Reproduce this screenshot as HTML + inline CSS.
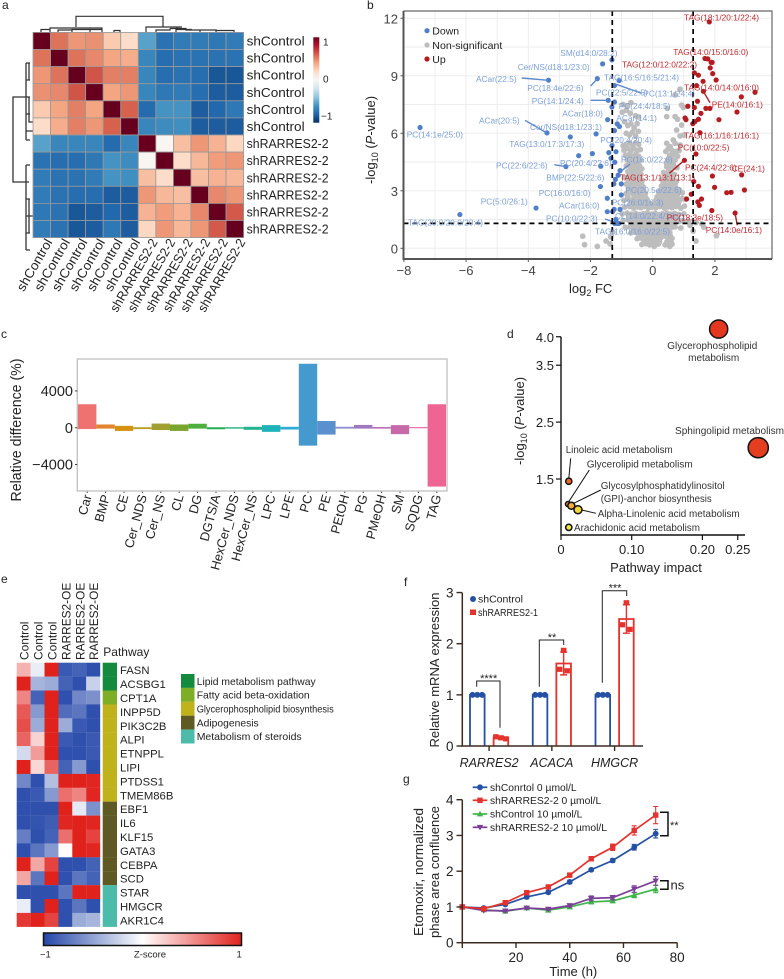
<!DOCTYPE html>
<html lang="en">
<head>
<meta charset="utf-8">
<title>Lipidomics figure</title>
<style>
html,body{margin:0;padding:0;background:#fff}
svg{display:block;font-family:"Liberation Sans",Arial,sans-serif}
text{fill:#222}
.v{font-size:8.3px}
.vb{fill:#7a9fdc}
.vr{fill:#c5282e}
.d{font-size:10px;fill:#333}
.pl{font-size:13px;fill:#222}
</style>
</head>
<body>
<svg id="fig" xmlns="http://www.w3.org/2000/svg" width="784" height="979" viewBox="0 0 784 979">
<defs>
<linearGradient id="rdbu" x1="0" y1="1" x2="0" y2="0">
<stop offset="0" stop-color="#053061"/><stop offset=".1" stop-color="#2166ac"/><stop offset=".2" stop-color="#4393c3"/><stop offset=".3" stop-color="#92c5de"/><stop offset=".4" stop-color="#d1e5f0"/><stop offset=".5" stop-color="#f7f7f7"/><stop offset=".6" stop-color="#fddbc7"/><stop offset=".7" stop-color="#f4a582"/><stop offset=".8" stop-color="#d6604d"/><stop offset=".9" stop-color="#b2182b"/><stop offset="1" stop-color="#67001f"/>
</linearGradient>
<linearGradient id="zscore" x1="0" y1="0" x2="1" y2="0">
<stop offset="0" stop-color="#2447a9"/><stop offset=".5" stop-color="#ffffff"/><stop offset="1" stop-color="#e0221d"/>
</linearGradient>
</defs>

<text x="2" y="9" font-size="12">a</text>
<text x="367" y="9" font-size="12">b</text>
<text x="1" y="338" font-size="12">c</text>
<text x="507" y="338" font-size="12">d</text>
<text x="1" y="583" font-size="12">e</text>
<text x="404" y="586" font-size="12">f</text>
<text x="403" y="783" font-size="12">g</text>

<!-- Panel a -->
<g id="panel-a">
<path fill="none" stroke="#333" stroke-width="1.2" d="M76 27V16.3H163V27M50 32V29.5H41V32M50 29.5V28H102V29.5M58 32V30H72M72 32V29.5H90V32M90 29.5H102V32M114 32V30.5H120V32M146 32V27H182M146 27H177V28.5M170 28.5H186V30H200V32M170 28.5V30H156V32M186 30H216V32M216 30.5H234V32M176 32V29.5H192"/>
<path fill="none" stroke="#333" stroke-width="1.3" d="M26 97H13V182H26M26 63V140M26 63H30M26 80H30M29 63V80M26 97H30M29 97V122H33M26 114H30M26 131H33M26 140H30M26 165V250M26 165H30M26 182H29M26 199H30M26 216H33M26 233H30M26 250H30M29 199V216M29 216V233"/>
<rect x="313.3" y="37.3" width="6" height="85.4" fill="url(#rdbu)"/>
<text x="323" y="45.5" font-size="10">1</text>
<text x="323" y="82.5" font-size="10">0</text>
<text x="321" y="119.5" font-size="10">−1</text>
</g>

<!-- Panel b -->
<g id="panel-b">
<g id="volcano-grid"></g>
<g id="volcano-points"></g>
<g fill="none" stroke-width="1.4">
<path stroke="#5c88cf" d="M521.7 78L548.3 80.3M590.7 86L597.3 78.7M615.3 84L641.7 93.3M590.7 100.3L608.3 100.3M525 120.3L547 133M554.3 164.7L566 166.7M621.7 170.7L630 164M605 219L617.3 223.3"/>
<path stroke="#b51c22" d="M703.3 91.3L710 102.7M669.3 173.3L684.3 160.3M735 213L737.3 225.3"/>
</g>
<g id="volcano-frame"></g>
<g class="v">
<text class="v vb" x="560.3" y="56">SM(d14:0/28:2)</text>
<text class="v vb" x="517.7" y="70">Cer/NS(d18:1/23:0)</text>
<text class="v vb" x="476" y="82">ACar(22:5)</text>
<text class="v vb" x="527.3" y="91">PC(18:4e/22:6)</text>
<text class="v vb" x="604" y="80.5">TAG(16:5/16:5/21:4)</text>
<text class="v vb" x="596" y="95.5">PC(22:5/22:5)</text>
<text class="v vb" x="643.3" y="96.5">PC(13:1/24:4)</text>
<text class="v vb" x="531.7" y="104">PG(14:1/24:4)</text>
<text class="v vb" x="618.7" y="109">PC(24:4/18:5)</text>
<text class="v vb" x="562.3" y="116.5">ACar(18:0)</text>
<text class="v vb" x="616.3" y="121">ACar(14:1)</text>
<text class="v vb" x="479" y="123.5">ACar(20:5)</text>
<text class="v vb" x="406.7" y="137.5">PC(14:1e/25:0)</text>
<text class="v vb" x="530" y="130">Cer/NS(d18:1/23:1)</text>
<text class="v vb" x="600.3" y="143">PC(20:4/20:4)</text>
<text class="v vb" x="509.3" y="147">TAG(13:0/17:3/17:3)</text>
<text class="v vb" x="560" y="166">PC(20:4/22:6)</text>
<text class="v vb" x="621" y="162.5">PC(16:0/22:6)</text>
<text class="v vb" x="496" y="168.7">PC(22:6/22:6)</text>
<text class="v vb" x="546.3" y="180.7">BMP(22:5/22:6)</text>
<text class="v vb" x="625.3" y="193">PC(20:5e/22:6)</text>
<text class="v vb" x="538.7" y="196">PC(16:0/16:0)</text>
<text class="v vb" x="480.7" y="204.7">PC(5:0/26:1)</text>
<text class="v vb" x="559" y="208.7">ACar(16:0)</text>
<text class="v vb" x="611.7" y="205.3">PC(26:0/16:3)</text>
<text class="v vb" x="546" y="221.7">PC(10:0/22:3)</text>
<text class="v vb" x="615" y="219">CL(14:0/22:4/18:2)</text>
<text class="v vb" x="408" y="225.3">TAG(20:0/20:0/20:4)</text>
<text class="v vb" x="595" y="234.7">TAG(16:0/16:0/22:5)</text>
</g>
<g>
<text class="v vr" x="684" y="20.5">TAG(18:1/20:1/22:4)</text>
<text class="v vr" x="673.3" y="55">TAG(14:0/15:0/16:0)</text>
<text class="v vr" x="622" y="67.7">TAG(12:0/12:0/22:2)</text>
<text class="v vr" x="684" y="90.3">TAG(14:0/14:0/16:0)</text>
<text class="v vr" x="711.7" y="107.7">PE(14:0/16:1)</text>
<text class="v vr" x="684" y="138.3">TAG(16:1/16:1/16:1)</text>
<text class="v vr" x="677.7" y="150.3">PC(10:0/22:5)</text>
<text class="v vr" x="685" y="170.7">PC(24:4/22:6)</text>
<text class="v vr" x="731.7" y="171.7">CE(24:1)</text>
<text class="v vr" x="620" y="180.3">TAG(13:1/13:1/13:1)</text>
<text class="v vr" x="666.7" y="220.7">PC(18:3e/18:5)</text>
<text class="v vr" x="705.7" y="233">PC(14:0e/16:1)</text>
</g>
<g>
<circle cx="427" cy="30.7" r="2.6" fill="#4f7fcb"/>
<text x="432.3" y="34.5" font-size="10.5" fill="#333">Down</text>
<circle cx="427" cy="45" r="2.6" fill="#bdbdbd"/>
<text x="432.3" y="49" font-size="10.5" textLength="70" lengthAdjust="spacingAndGlyphs">Non-significant</text>
<circle cx="427" cy="59" r="2.6" fill="#b51c22"/>
<text x="432.3" y="63" font-size="10.5">Up</text>
</g>
<text class="pl" x="569" y="293">log<tspan font-size="9" dy="3">2</tspan><tspan dy="-3"> FC</tspan></text>
<text class="pl" transform="translate(375,184) rotate(-90)">-log<tspan font-size="9" dy="3">10</tspan><tspan dy="-3"> (</tspan><tspan font-style="italic">P</tspan>-value)</text>
</g>

<!-- Panel c -->
<g id="panel-c">
<text transform="translate(21,501.5) rotate(-90)" font-size="14.5" textLength="143" lengthAdjust="spacingAndGlyphs">Relative difference (%)</text>
</g>

<!-- Panel d -->
<g id="panel-d">
<path fill="none" stroke="#111" stroke-width="1" d="M570.7 458.3L568.7 479.3M589.3 470L567.7 503.3M600.7 490L571.7 504.3M596 513.3L581.7 510"/>
<text class="d" x="712.3" y="349" text-anchor="middle" textLength="90" lengthAdjust="spacingAndGlyphs">Glycerophospholipid</text>
<text class="d" x="713.7" y="361" text-anchor="middle">metabolism</text>
<text class="d" x="675" y="434" textLength="109" lengthAdjust="spacingAndGlyphs">Sphingolipid metabolism</text>
<text class="d" x="565.7" y="453" textLength="107" lengthAdjust="spacingAndGlyphs">Linoleic acid metabolism</text>
<text class="d" x="586.7" y="467.5" textLength="106" lengthAdjust="spacingAndGlyphs">Glycerolipid metabolism</text>
<text class="d" x="600.7" y="489" textLength="124" lengthAdjust="spacingAndGlyphs">Glycosylphosphatidylinositol</text>
<text class="d" x="600.7" y="502" textLength="111" lengthAdjust="spacingAndGlyphs">(GPI)-anchor biosynthesis</text>
<text class="d" x="597.7" y="517" textLength="142" lengthAdjust="spacingAndGlyphs">Alpha-Linolenic acid metabolism</text>
<text class="d" x="574" y="531" textLength="126" lengthAdjust="spacingAndGlyphs">Arachidonic acid metabolism</text>
<text class="pl" x="656" y="572" text-anchor="middle">Pathway impact</text>
<text class="pl" transform="translate(524,465) rotate(-90)">-log<tspan font-size="9" dy="3">10</tspan><tspan dy="-3"> (</tspan><tspan font-style="italic">P</tspan>-value)</text>
</g>

<!-- Panel e -->
<g id="panel-e">
<text x="103.3" y="656" font-size="12">Pathway</text>
<g font-size="10.5">
<rect x="181" y="674" width="13.5" height="13.9" fill="#138a3d"/>
<rect x="181" y="687.9" width="13.5" height="13.9" fill="#7dae26"/>
<rect x="181" y="701.8" width="13.5" height="13.9" fill="#bfb21a"/>
<rect x="181" y="715.7" width="13.5" height="13.9" fill="#5f5a24"/>
<rect x="181" y="729.6" width="13.5" height="13.9" fill="#4dbbaa"/>
<text x="196.7" y="685" textLength="119" lengthAdjust="spacingAndGlyphs">Lipid metabolism pathway</text>
<text x="196.7" y="698.5" textLength="113" lengthAdjust="spacingAndGlyphs">Fatty acid beta-oxidation</text>
<text x="196.7" y="712.5" textLength="137" lengthAdjust="spacingAndGlyphs">Glycerophospholipid biosynthesis</text>
<text x="196.7" y="726.5" textLength="62" lengthAdjust="spacingAndGlyphs">Adipogenesis</text>
<text x="196.7" y="740" textLength="105" lengthAdjust="spacingAndGlyphs">Metabolism of steroids</text>
</g>
<rect x="43.5" y="933" width="198" height="12.5" fill="url(#zscore)" stroke="#111" stroke-width="1.5"/>
<text x="40" y="957.5" font-size="9.5">−1</text>
<text x="150" y="957.5" font-size="9.5" text-anchor="middle">Z-score</text>
<text x="236.5" y="957.5" font-size="9.5">1</text>
</g>

<!-- Panel f -->
<g id="panel-f">
<text class="pl" transform="translate(439,747.5) rotate(-90)" textLength="155" lengthAdjust="spacingAndGlyphs">Relative mRNA expression</text>
<circle cx="473" cy="599" r="3" fill="#2451a6"/>
<text x="478" y="602.5" font-size="10.5">shControl</text>
<rect x="470" y="609.5" width="6" height="5.5" fill="#e5322d"/>
<text x="478" y="616" font-size="10.5" textLength="60" lengthAdjust="spacingAndGlyphs">shRARRES2-1</text>
<path fill="none" stroke="#222" stroke-width="1" d="M476.7 686.7V681H500V727.7M539.3 686.7V640H563.7V645M602.3 682.7V590.7H626.7V596"/>
<text x="488.7" y="682" font-size="11" text-anchor="middle">****</text>
<text x="552" y="641" font-size="11" text-anchor="middle">**</text>
<text x="615" y="591.5" font-size="11" text-anchor="middle">***</text>
</g>

<!-- Panel g -->
<g id="panel-g">
<text class="pl" transform="translate(423,936) rotate(-90)" textLength="128" lengthAdjust="spacingAndGlyphs">Etomoxir, normalized</text>
<text class="pl" transform="translate(439,938) rotate(-90)" textLength="132" lengthAdjust="spacingAndGlyphs">phase area confluence</text>
<text class="pl" x="573.3" y="976" text-anchor="middle">Time (h)</text>
<path fill="none" stroke="#111" stroke-width="1.5" d="M660 812.3H668V835.7H660"/>
<text x="670" y="829" font-size="11">**</text>
<path fill="none" stroke="#111" stroke-width="1.5" d="M660 880.7H668V889.3H660"/>
<text x="670.5" y="889.5" font-size="13">ns</text>
</g>

<script>
// ---- Panel a data ----
const corrLabels = ['shControl','shControl','shControl','shControl','shControl','shControl','shRARRES2-2','shRARRES2-2','shRARRES2-2','shRARRES2-2','shRARRES2-2','shRARRES2-2'];
const corrRow1 = [1,.62,.5,.52,.3,.22,-.62,-.85,-.8,-.8,-.82,-.8];
const corrRow2 = [.62,1,.62,.55,.45,.42,-.75,-.87,-.85,-.85,-.85,-.85];
const corrRow3 = [.5,.62,1,.72,.58,.58,-.75,-.87,-.85,-.87,-.97,-.97];
const corrRow4 = [.52,.55,.72,1,.45,.5,-.75,-.82,-.8,-.87,-.95,-.95];
const corrRow5 = [.3,.45,.58,.45,1,.68,-.88,-.68,-.68,-.95,-.9,-.82];
const corrRow6 = [.22,.42,.58,.5,.68,1,-.75,-.72,-.7,-.95,-.95,-.95];
const corrRow7 = [-.62,-.75,-.75,-.75,-.88,-.75,1,.02,.35,.5,.4,.24];
const corrRow8 = [-.85,-.87,-.87,-.82,-.68,-.72,.02,1,.22,.38,.48,.5];
const corrRow9 = [-.8,-.85,-.85,-.8,-.68,-.7,.35,.22,1,.35,.4,.38];
const corrRow10 = [-.8,-.85,-.87,-.87,-.95,-.95,.5,.38,.35,1,.55,.5];
const corrRow11 = [-.82,-.85,-.97,-.95,-.9,-.95,.4,.48,.4,.55,1,.7];
const corrRow12 = [-.8,-.85,-.97,-.95,-.82,-.95,.24,.5,.38,.5,.7,1];
const corrMatrix = [corrRow1,corrRow2,corrRow3,corrRow4,corrRow5,corrRow6,corrRow7,corrRow8,corrRow9,corrRow10,corrRow11,corrRow12];

// ---- Panel b data ----
const volcanoXTicks = [-8,-6,-4,-2,0,2];
const volcanoYTicks = [0,3,6,9,12];
const downPoints = [[-7.48,6.3],[-1.61,9.62],[-1.31,9.83],[-3.35,8.77],[-1.78,8.85],[-1.08,8.75],[-1.23,8.49],[-1.43,7.72],[-1.23,7.63],[-1.31,7.37],[-1.45,6.71],[-1.14,6.49],[-1.07,6.35],[-1.23,6.14],[-1.82,5.97],[-3.4,6.02],[-2.65,5.81],[-1.31,5.36],[-1.18,5.04],[-2.38,4.83],[-1.94,4.94],[-1.41,4.99],[-1.34,4.7],[-1.22,4.49],[-2.79,4.26],[-1.67,4.28],[-1.05,4.05],[-1.11,3.81],[-1.2,3.6],[-1.25,3.36],[-1.01,3.36],[-1.68,3.22],[-1.01,2.78],[-1.46,2.61],[-3.75,2.1],[-6.2,1.76],[-1.24,2.03],[-1.05,2.03],[-1.46,1.91],[-1.29,1.91],[-1.18,1.51],[-1.15,1.3],[-1.22,1.3],[-1.09,1.3]];
const upPoints = [[1.82,11.81],[1.68,9.9],[1.77,9.88],[1.88,9.7],[1.91,9.7],[1.85,9.41],[1.93,9.11],[1.34,9.15],[1.47,9.03],[2.04,8.78],[1.62,8.71],[1.41,8.49],[1.63,8.19],[3.29,8.14],[2.85,7.9],[1.44,7.67],[1.13,7.41],[1.34,7.34],[1.71,7.3],[1.84,7.3],[2.71,7.11],[1.55,7.04],[1.04,6.8],[1.07,6.71],[1.47,6.73],[2.13,6.71],[1.36,6.61],[1.29,6.5],[1.52,6.03],[1.39,4.92],[1.02,4.59],[1.92,3.77],[2.86,3.83],[1.32,3.48],[1.47,3.23],[1.99,3.18],[2.95,3.04],[2.38,2.9],[2.52,2.92],[1.24,2.82],[1.09,2.57],[1.57,2.57],[1.45,2.42],[1.5,2.24],[1.9,1.97],[2.65,1.84]];
const nsPointsSparse = [[-2.25,.63],[-2.19,.19],[-1.78,.1],[-1.5,.38],[-1.37,.23],[-1.28,.85],[-1.35,.6],[2.05,.66],[1.39,.38],[1.58,1.27],[1.3,.9],[1.2,1.2],[1.04,2.56],[.95,2.6],[1.4,1.35],[1.65,1.1]];
const nsPointsLeft = [[-.95,7.5],[-.82,7.42],[-.7,7.6],[-.98,7.1],[-.85,7.2],[-.72,7.05],[-.55,6.92],[-.46,6.85],[-.9,6.6],[-.8,6.4],[-.7,6.5],[-.6,6.28],[-.5,6.5],[-.46,6.1],[-.85,6],[-.75,5.92],[-.65,6.05],[-.55,5.85],[-.95,5.35],[-.85,5.42],[-.75,5.5],[-.65,5.38],[-.55,5.5],[-.45,5.42],[-.92,5.12],[-.8,5.2],[-.7,5.1],[-.6,5.2],[-.5,5.1],[-.4,5.15],[-.88,4.85],[-.75,4.9],[-.65,4.8],[-.55,4.9],[-.45,4.8],[-.82,4.6],[-.7,4.55],[-.6,4.62],[-.5,4.5],[-.4,4.6],[-.85,4.3],[-.72,4.25],[-.62,4.3],[-.52,4.2],[-.42,4.3],[-.35,4.15],[-.8,4],[-.68,3.95],[-.58,3.98],[-.48,3.9],[-.38,3.85],[-.9,3.7],[-.78,3.65],[-.66,3.7],[-.55,3.6],[-.44,3.62],[-.34,3.55],[-.85,3.35],[-.72,3.3],[-.6,3.35],[-.5,3.25],[-.4,3.3],[-.3,3.2]];
const nsPointsRight = [[.88,8.3],[.72,8],[.93,7.47],[.99,7.35],[.47,7.3],[.45,6.87],[.72,6.87],[.8,6.73],[.93,6.43],[.77,6.17],[.66,5.65],[1,5.9],[.88,5.86],[.45,5.48],[.72,5.48],[.56,5.3],[.88,5.39],[.5,5.2],[.62,5.1],[.75,5.05],[.85,5.1],[.55,4.85],[.68,4.9],[.8,4.8],[.48,4.6],[.6,4.55],[.72,4.6],[.45,4.25],[.56,4.3],[.68,4.25],[.78,4.2],[.35,3.95],[.47,3.9],[.58,3.95],[.7,3.85],[.3,3.6],[.42,3.55],[.54,3.6],[.66,3.55],[.76,3.5],[.28,3.25],[.4,3.2],[.52,3.25],[.64,3.2],[.75,3.15],[.85,3.05]];
const nsPointsBase = [[-.85,2.85],[-.72,2.9],[-.6,2.82],[-.48,2.88],[-.36,2.8],[-.24,2.85],[.2,2.9],[.32,2.82],[.44,2.88],[.56,2.8],[.68,2.87],[.8,2.82],[.95,2.9],[-.92,2.5],[-.78,2.55],[-.66,2.48],[-.54,2.52],[-.42,2.46],[-.3,2.5],[-.18,2.55],[.1,2.5],[.22,2.45],[.36,2.52],[.48,2.47],[.6,2.55],[.72,2.5],[.85,2.46],[1.02,2.2],[-.9,2.15],[-.75,2.18],[-.62,2.1],[-.5,2.16],[-.38,2.12],[-.26,2.18],[-.14,2.1],[-.02,2.15],[.1,2.12],[.24,2.18],[.38,2.1],[.5,2.16],[.62,2.12],[.75,2.18],[.9,2.1],[-.98,1.8],[-.82,1.84],[-.68,1.78],[-.55,1.82],[-.42,1.76],[-.3,1.8],[-.18,1.84],[-.05,1.78],[.08,1.82],[.2,1.76],[.32,1.8],[.46,1.84],[.58,1.78],[.7,1.82],[.84,1.76],[1,1.8],[-.95,1.45],[-.78,1.48],[-.65,1.42],[-.52,1.46],[-.4,1.4],[-.28,1.45],[-.15,1.48],[-.03,1.42],[.1,1.46],[.22,1.4],[.35,1.45],[.47,1.48],[.6,1.42],[.72,1.46],[.85,1.4],[.98,1.45],[1.15,1.42],[-.88,1.1],[-.72,1.14],[-.6,1.08],[-.48,1.12],[-.36,1.06],[-.24,1.1],[-.12,1.14],[0,1.08],[.12,1.12],[.24,1.06],[.36,1.1],[.48,1.14],[.6,1.08],[.72,1.12],[.9,1.06],[-.7,.8],[-.55,.84],[-.42,.78],[-.3,.82],[-.18,.76],[-.06,.8],[.06,.84],[.18,.78],[.3,.82],[.42,.76],[.55,.8],[-.5,.5],[-.38,.54],[-.25,.48],[-.12,.52],[0,.46],[.12,.5],[.25,.54],[.5,.48],[.62,.52],[-.35,.2],[-.22,.24],[-.1,.18],[.05,.1],[.18,.22],[.4,.18],[.55,.1],[.62,.22]];
const nsPointsDense = [[-.74,4.72],[-.58,4.74],[-.44,4.68],[-.76,4.42],[-.57,4.44],[-.46,4.38],[-.66,4.12],[-.52,4.08],[-.42,4.02],[-.74,3.82],[-.6,3.82],[-.47,3.76],[-.78,3.5],[-.62,3.52],[-.48,3.44],[-.36,3.42],[-.78,3.12],[-.66,3.1],[-.54,3.08],[-.42,3.04],[-.3,3.02],[-.8,2.68],[-.6,2.68],[-.48,2.66],[-.36,2.64],[-.24,2.68],[.14,2.68],[.28,2.66],[.42,2.68],[.54,2.66],[.66,2.7],[.78,2.66],[-.7,2.32],[-.56,2.34],[-.44,2.3],[-.32,2.32],[-.2,2.34],[-.08,2.32],[.04,2.3],[.16,2.32],[.3,2.34],[.44,2.32],[.56,2.34],[.68,2.32],[.82,2.3],[-.75,1.62],[-.6,1.64],[-.47,1.6],[-.35,1.62],[-.23,1.64],[-.1,1.6],[.02,1.62],[.15,1.6],[.27,1.64],[.4,1.62],[.52,1.6],[.65,1.64],[.78,1.6],[-.66,1.28],[-.54,1.26],[-.42,1.28],[-.3,1.24],[-.18,1.28],[-.06,1.26],[.06,1.28],[.18,1.24],[.3,1.28],[.42,1.26],[.54,1.28],[.66,1.24],[-.62,.94],[-.48,.96],[-.36,.92],[-.24,.96],[-.12,.94],[0,.92],[.12,.96],[.24,.94],[.36,.92],[.48,.96],[-.44,.64],[-.3,.66],[-.18,.62],[-.06,.66],[.06,.64],[.2,.62],[.36,.64],[.56,.66],[-.28,.34],[-.16,.36],[-.03,.3],[.1,.36],[.22,.34],[.46,.34],[.58,.36],[.42,5.05],[.58,4.72],[.44,4.45],[.66,4.42],[.52,4.12],[.38,3.75],[.5,3.78],[.62,3.75],[.34,3.42],[.48,3.42],[.6,3.4],[.72,3.35],[.36,3.05],[.48,3.04],[.6,3.02],[.72,3],[.25,3.02]];

// ---- Panel c data ----
const lipidClasses = ['Car','BMP','CE','Cer_NDS','Cer_NS','CL','DG','DGTS/A','HexCer_NDS','HexCer_NS','LPC','LPE','PC','PE','PEtOH','PG','PMeOH','SM','SQDG','TAG'];
const lipidPositive = [2550,350,200,50,450,350,430,50,50,100,280,100,6950,730,100,300,70,280,60,2550];
const lipidNegative = [-150,-100,-350,-150,-250,-350,-100,-170,-100,-230,-450,-200,-1950,-750,-100,-100,-100,-700,-60,-6400];
const lipidYTicks = [-4000,0,4000];

// ---- Panel d data ----
const pathwayImpact = [.223,.279,.011,.0099,.0146,.024,.011];
const pathwayLogP = [4.135,2.05,1.46,1.06,1.03,.96,.65];
const pathwayHits = [17,21,2,1.3,2.5,3.3,2];
const pathwayXTicks = [0,.1,.2,.25];
const pathwayXLabels = ['0','0.10','0.20','0.25'];
const pathwayYTicks = [1.5,2.5,3.5,4];
const pathwayYLabels = ['1.5','2.5','3.5','4.0'];

// ---- Panel e data ----
const geneColumns = ['Control','Control','Control','RARRES2-OE','RARRES2-OE','RARRES2-OE'];
const geneNames = ['FASN','ACSBG1','CPT1A','INPP5D','PIK3C2B','ALPI','ETNPPL','LIPI','PTDSS1','TMEM86B','EBF1','IL6','KLF15','GATA3','CEBPA','SCD','STAR','HMGCR','AKR1C4'];
const genePathway = [0,0,1,2,2,2,2,2,2,2,3,3,3,3,3,3,4,4,4];
const geneZ = [
[.35,-.1,1,-.9,-.85,-.95],
[1,-.4,-.45,-.85,-.95,-.25],
[.55,-.85,1,-.95,-.65,-.6],
[.75,-.55,1,-.8,-.75,-.95],
[.8,-.45,1,-.45,-.9,-.95],
[.7,.2,1,-.9,-.95,-.9],
[-.2,.45,1,-.95,-.95,-.9],
[1,.18,.7,-.85,-.55,-.95],
[-.65,-.95,-.35,1,1,.98],
[-.95,-.9,-.55,.65,.55,.98],
[-.95,-.95,-.95,1,-.12,-.6],
[-.95,-.93,-.88,.98,1,.98],
[-.7,-.95,-.85,.65,1,.85],
[-.95,-.75,-.55,.02,1,.98],
[1,.4,.85,-.95,-.95,-.85],
[.4,-.75,1,-.95,-.75,-.85],
[-.95,-.95,-.95,-.75,1,1],
[-.1,-.95,1,-.95,-.75,-.95],
[.9,1,.85,-.95,-.45,-.4]];

// ---- Panel f data ----
const mrnaGenes = ['RARRES2','ACACA','HMGCR'];
const mrnaControl = [[1,1,1],[1,1,1],[1,1,1]];
const mrnaKnockdown = [[.18,.16,.14],[1.87,1.5,1.47],[2.8,2.37,2.28]];
const mrnaYTicks = [0,1,2,3];

// ---- Panel g data ----
const timeHours = [0,8,16,24,32,40,48,56,64,72];
const controlZero = [1,.97,1.07,1.28,1.41,1.7,2.04,2.3,2.67,3.05];
const knockdownZero = [1,.95,1.12,1.4,1.56,1.89,2.35,2.67,3.14,3.57];
const controlTen = [1,.92,.88,.97,.91,1,1.14,1.17,1.33,1.5];
const knockdownTen = [1,.9,.89,.97,.94,1.04,1.24,1.26,1.5,1.73];
const controlZeroErr = [0,.02,.03,.05,.04,.05,.04,.05,.08,.12];
const knockdownZeroErr = [0,.03,.04,.06,.05,.05,.06,.09,.13,.24];
const controlTenErr = [0,.02,.03,.03,.03,.03,.05,.05,.07,.1];
const knockdownTenErr = [0,.02,.03,.03,.03,.04,.07,.06,.09,.12];
const confXTicks = [20,40,60,80];
const confYTicks = [0,1,2,3,4];

const NS = 'http://www.w3.org/2000/svg';
function add(parent, tag, attrs, txt) {
  const n = document.createElementNS(NS, tag);
  for (const k in attrs) n.setAttribute(k, attrs[k]);
  if (txt !== undefined) n.textContent = txt;
  parent.appendChild(n);
  return n;
}
function lerpHex(a, b, t) {
  const pa = [1,3,5].map(i => parseInt(a.substr(i,2),16));
  const pb = [1,3,5].map(i => parseInt(b.substr(i,2),16));
  return 'rgb(' + pa.map((v,i) => Math.round(v + (pb[i]-v)*t)).join(',') + ')';
}
const rdbuStops = ['#053061','#2166ac','#4393c3','#92c5de','#d1e5f0','#f7f7f7','#fddbc7','#f4a582','#d6604d','#b2182b','#67001f'];
function rdbu(v) {
  const t = Math.max(0, Math.min(.9999, (v+1)/2)) * 10;
  const i = Math.floor(t);
  return lerpHex(rdbuStops[i], rdbuStops[i+1], t-i);
}
function zColor(v) {
  return v < 0 ? lerpHex('#ffffff', '#2447a9', Math.min(1,-v)) : lerpHex('#ffffff', '#e0221d', Math.min(1,v));
}

// ---- Draw panel a ----
(function () {
  const g = document.getElementById('panel-a');
  const x0 = 33, y0 = 32.4, cw = 17.55, ch = 17.1;
  corrMatrix.forEach((row, r) => {
    row.forEach((v, c) => {
      const cell = add(g, 'rect', {x: x0+c*cw, y: y0+r*ch, width: cw, height: ch, fill: v >= .999 ? '#67001f' : rdbu(v*.88), stroke: '#999', 'stroke-width': .8});
      
      
    });
  });
  corrLabels.forEach((lab, i) => {
    const w = lab === 'shControl' ? 58 : 82;
    const yl = add(g, 'text', {x: x0+12*cw+3, y: y0+(i+.5)*ch+4.5, 'font-size': 13, textLength: w, lengthAdjust: 'spacingAndGlyphs'}, lab);
    
    
    const ax = x0+(i+.5)*cw+11, ay = 242;
    const xl = add(g, 'text', {transform: `translate(${ax},${ay}) rotate(-60)`, 'font-size': 13, 'text-anchor': 'end', textLength: w, lengthAdjust: 'spacingAndGlyphs'}, lab);
    
    
  });
})();

// ---- Draw panel b ----
(function () {
  const xS = v => 652.7 + v*31.1;
  const yS = v => 248.3 - v*19.17;
  const L = 403.5, R = 772, T = 11, B = 259;
  const grid = document.getElementById('volcano-grid');
  for (let v = -8; v <= 3; v++) {
    const gl = add(grid, 'line', {x1: xS(v), x2: xS(v), y1: T, y2: B, stroke: '#ededed', 'stroke-width': 1});
    
    
  }
  for (let v = 0; v <= 12; v += 1.5) {
    const gl = add(grid, 'line', {x1: L, x2: R, y1: yS(v), y2: yS(v), stroke: '#ededed', 'stroke-width': 1});
    
    
  }
  const pts = document.getElementById('volcano-points');
  nsPointsSparse.concat(nsPointsLeft, nsPointsRight, nsPointsBase, nsPointsDense).forEach(p => {
    const c = add(pts, 'circle', {cx: xS(p[0]), cy: yS(p[1]), r: 2.9, fill: '#bdbdbd'});
    
    
  });
  downPoints.forEach(p => {
    const c = add(pts, 'circle', {cx: xS(p[0]), cy: yS(p[1]), r: 2.6, fill: '#4f7fcb'});
    
    
  });
  upPoints.forEach(p => {
    const c = add(pts, 'circle', {cx: xS(p[0]), cy: yS(p[1]), r: 2.6, fill: '#b51c22'});
    
    
  });
  const f = document.getElementById('volcano-frame');
  [[xS(-1.3),xS(-1.3),T,B],[xS(1.3),xS(1.3),T,B],[L,R,yS(1.3),yS(1.3)]].forEach(l => {
    const d = add(f, 'line', {x1: l[0], x2: l[1], y1: l[2], y2: l[3], stroke: '#000', 'stroke-width': 1.7, 'stroke-dasharray': '5 4'});
    
    
  });
  const fr = add(f, 'path', {d: `M${L} ${T}H${R}V${B}`, fill: 'none', stroke: '#666', 'stroke-width': 1.2});
  
  
  const fa = add(f, 'path', {d: `M${L} ${T}V${B}H${R}`, fill: 'none', stroke: '#555', 'stroke-width': 2});
  
  
  volcanoXTicks.forEach(v => {
    const t = add(f, 'line', {x1: xS(v), x2: xS(v), y1: B, y2: B+3, stroke: '#555', 'stroke-width': 1});
    
    
    const l = add(f, 'text', {x: xS(v), y: 275, 'font-size': 13, 'text-anchor': 'middle', style: 'fill:#444'}, String(v).replace('-', '\u2212'));
    
    
  });
  volcanoYTicks.forEach(v => {
    const t = add(f, 'line', {x1: L-3, x2: L, y1: yS(v), y2: yS(v), stroke: '#555', 'stroke-width': 1});
    
    
    const l = add(f, 'text', {x: 398, y: yS(v)+5, 'font-size': 13, 'text-anchor': 'end', style: 'fill:#444'}, String(v));
    
    
  });
})();

// ---- Draw panel c ----
(function () {
  const g = document.getElementById('panel-c');
  const colors = ['#ef7270','#e2852f','#d49210','#b79f20','#a0a030','#79a52d','#4faf3d','#25af55','#1fb378','#25b38f','#1eb3b8','#30add5','#4499cf','#5b90ce','#8c8fcf','#9f78bf','#b56bb5','#c66ba8','#e264a8','#ee6594'];
  const yS = v => 427.7 - v*.0092;
  const x0 = 78, bw = 18.4;
  lipidClasses.forEach((name, i) => {
    const top = yS(lipidPositive[i]), bot = yS(lipidNegative[i]);
    const b = add(g, 'rect', {x: x0+i*bw, y: top, width: bw, height: bot-top, fill: colors[i]});
    
    
    const cx = x0+(i+.5)*bw;
    const t = add(g, 'line', {x1: cx, x2: cx, y1: 491, y2: 493, stroke: '#444', 'stroke-width': 1});
    
    
    const l = add(g, 'text', {transform: `translate(${cx+4.5},496) rotate(-75)`, 'font-size': 12.8, 'text-anchor': 'end'}, name);
    
    
  });
  const fr = add(g, 'rect', {x: 77.3, y: 359, width: 369.7, height: 132, fill: 'none', stroke: '#c4c4c4', 'stroke-width': 1.4});
  
  
  lipidYTicks.forEach(v => {
    const t = add(g, 'line', {x1: 75, x2: 77.3, y1: yS(v), y2: yS(v), stroke: '#444', 'stroke-width': 1});
    
    
    const l = add(g, 'text', {x: 73, y: yS(v)+5.2, 'font-size': 14.5, 'text-anchor': 'end'}, String(v).replace('-', '\u2212'));
    
    
  });
})();

// ---- Draw panel d ----
(function () {
  const g = document.getElementById('panel-d');
  const xS = v => 561 + v*707;
  const yS = v => 479 - (v-1.5)*56.9;
  const colors = ['#e5371f','#e53d1f','#ee6a1a','#f08a1a','#f5b32a','#f2d836','#f3e640'];
  const order = [0,1,2,3,4,5,6];
  order.forEach(i => {
    const c = add(g, 'circle', {cx: xS(pathwayImpact[i]), cy: yS(pathwayLogP[i]), r: 2.2*Math.sqrt(pathwayHits[i]), fill: colors[i], stroke: '#111', 'stroke-width': 1.5});
    
    
  });
  const ax = add(g, 'path', {d: `M561 336.7V535H745`, fill: 'none', stroke: '#111', 'stroke-width': 1.4});
  
  
  pathwayYTicks.forEach((v, i) => {
    const t = add(g, 'line', {x1: 556, x2: 561, y1: yS(v), y2: yS(v), stroke: '#111', 'stroke-width': 1.2});
    
    
    const l = add(g, 'text', {x: 554, y: yS(v)+5, 'font-size': 13, 'text-anchor': 'end'}, pathwayYLabels[i]);
    
    
  });
  pathwayXTicks.forEach((v, i) => {
    const t = add(g, 'line', {x1: xS(v), x2: xS(v), y1: 535, y2: 540, stroke: '#111', 'stroke-width': 1.2});
    
    
    const l = add(g, 'text', {x: xS(v), y: 554, 'font-size': 13, 'text-anchor': 'middle'}, pathwayXLabels[i]);
    
    
  });
})();

// ---- Draw panel e ----
(function () {
  const g = document.getElementById('panel-e');
  const x0 = 16.7, y0 = 662.7, s = 13.9;
  const pathwayColors = ['#138a3d','#7dae26','#bfb21a','#5f5a24','#4dbbaa'];
  geneZ.forEach((row, r) => {
    row.forEach((v, c) => {
      const cell = add(g, 'rect', {x: x0+c*s, y: y0+r*s, width: s+.1, height: s+.1, fill: zColor(v)});
      
      
    });
    const p = add(g, 'rect', {x: 102.7, y: y0+r*s, width: 14.3, height: s+.1, fill: pathwayColors[genePathway[r]]});
    
    
    const l = add(g, 'text', {x: 120, y: y0+(r+.5)*s+4.5, 'font-size': 11.3}, geneNames[r]);
    
    
  });
  geneColumns.forEach((lab, c) => {
    const l = add(g, 'text', {transform: `translate(${x0+(c+.5)*s+5},660) rotate(-90)`, 'font-size': 11.9}, lab);
    
    
  });
})();

// ---- Draw panel f ----
(function () {
  const g = document.getElementById('panel-f');
  const yS = v => 746 - v*51.15;
  const blue = '#2451a6', red = '#e5322d', half = 7.3;
  const mean = a => a.reduce((s, v) => s+v, 0)/a.length;
  const sd = a => { const m = mean(a); return Math.sqrt(a.reduce((s, v) => s+(v-m)*(v-m), 0)/(a.length-1)); };
  mrnaGenes.forEach((name, i) => {
    const bx = 477.3 + i*62.75, rx = bx + 23.6;
    const mb = mean(mrnaControl[i]), mr = mean(mrnaKnockdown[i]), er = sd(mrnaKnockdown[i]);
    const b1 = add(g, 'path', {d: `M${bx-half} 746V${yS(mb)}H${bx+half}V746`, fill: '#fff', stroke: blue, 'stroke-width': 1.8});
    
    
    const b2 = add(g, 'path', {d: `M${rx-half} 746V${yS(mr)}H${rx+half}V746`, fill: '#fff', stroke: red, 'stroke-width': 1.8});
    
    
    const e = add(g, 'path', {d: `M${rx} ${yS(mr+er)}V${yS(mr-er)}M${rx-3.5} ${yS(mr+er)}H${rx+3.5}M${rx-3.5} ${yS(mr-er)}H${rx+3.5}`, fill: 'none', stroke: red, 'stroke-width': 1.4});
    
    
    mrnaControl[i].forEach((v, k) => {
      const c = add(g, 'circle', {cx: bx+(k-1)*4.8, cy: yS(v), r: 3, fill: blue});
      
      
    });
    const off = i === 0 ? [-5,0,5] : [0,-4,3.5];
    mrnaKnockdown[i].forEach((v, k) => {
      const c = add(g, 'rect', {x: rx+off[k]-2.8, y: yS(v)-2.6, width: 5.6, height: 5.2, fill: red});
      
      
    });
    const cx = bx + 11.8;
    const t = add(g, 'line', {x1: cx, x2: cx, y1: 746, y2: 751, stroke: '#3a2a20', 'stroke-width': 1.4});
    
    
    const l = add(g, 'text', {x: cx, y: 767, 'font-size': 12.5, 'font-style': 'italic', 'text-anchor': 'middle'}, name);
    
    
  });
  const ax = add(g, 'path', {d: 'M462.3 592.7V746H643', fill: 'none', stroke: '#3a2a20', 'stroke-width': 1.5});
  
  
  mrnaYTicks.forEach(v => {
    const t = add(g, 'line', {x1: 456.5, x2: 462.3, y1: yS(v), y2: yS(v), stroke: '#3a2a20', 'stroke-width': 1.4});
    
    
    const l = add(g, 'text', {x: 453.5, y: yS(v)+5, 'font-size': 13.5, 'text-anchor': 'end'}, String(v));
    
    
  });
})();

// ---- Draw panel g ----
(function () {
  const g = document.getElementById('panel-g');
  const xS = v => 462.3 + v*2.686;
  const yS = v => 942.7 - v*35.75;
  const series = [
    {name: 'shConrtol 0 µmol/L', values: controlZero, err: controlZeroErr, color: '#2451a6', mark: 'circle'},
    {name: 'shRARRES2-2 0 µmol/L', values: knockdownZero, err: knockdownZeroErr, color: '#e5322d', mark: 'square'},
    {name: 'shControl 10 µmol/L', values: controlTen, err: controlTenErr, color: '#3db54a', mark: 'up'},
    {name: 'shRARRES2-2 10 µmol/L', values: knockdownTen, err: knockdownTenErr, color: '#7b3f98', mark: 'down'}
  ];
  const legendY = [787.3,800.3,814,827.3];
  function marker(kind, x, y, color) {
    let n;
    if (kind === 'circle') n = add(g, 'circle', {cx: x, cy: y, r: 2.9, fill: color});
    else if (kind === 'square') n = add(g, 'rect', {x: x-2.7, y: y-2.7, width: 5.4, height: 5.4, fill: color});
    else if (kind === 'up') n = add(g, 'path', {d: `M${x} ${y-3.2}L${x+3.2} ${y+2.4}H${x-3.2}Z`, fill: color});
    else n = add(g, 'path', {d: `M${x} ${y+3.2}L${x+3.2} ${y-2.4}H${x-3.2}Z`, fill: color});
    return n;
  }
  [2,3,0,1].forEach(si => {
    const s = series[si];
    const line = add(g, 'path', {d: 'M' + s.values.map((v, i) => xS(timeHours[i]) + ' ' + yS(v)).join('L'), fill: 'none', stroke: s.color, 'stroke-width': 1.7});
    
    
    s.values.forEach((v, i) => {
      const x = xS(timeHours[i]);
      const e = add(g, 'path', {d: `M${x} ${yS(v+s.err[i])}V${yS(v-s.err[i])}M${x-2.5} ${yS(v+s.err[i])}H${x+2.5}M${x-2.5} ${yS(v-s.err[i])}H${x+2.5}`, fill: 'none', stroke: s.color, 'stroke-width': 1.1});
      
      
      const m = marker(s.mark, x, yS(v), s.color);
      
      
    });
  });
  series.forEach((s, i) => {
    const l = add(g, 'line', {x1: 472.7, x2: 487.3, y1: legendY[i], y2: legendY[i], stroke: s.color, 'stroke-width': 1.7});
    
    
    const m = marker(s.mark, 480, legendY[i], s.color);
    
    
    const t = add(g, 'text', {x: 490, y: legendY[i]+3.7, 'font-size': 10.3}, s.name);
    
    
  });
  const ax = add(g, 'path', {d: `M462.3 ${yS(4)}V942.7H677.3`, fill: 'none', stroke: '#3a2a20', 'stroke-width': 1.5});
  
  
  confYTicks.forEach(v => {
    const t = add(g, 'line', {x1: 456.5, x2: 462.3, y1: yS(v), y2: yS(v), stroke: '#3a2a20', 'stroke-width': 1.4});
    
    
    const l = add(g, 'text', {x: 453.5, y: yS(v)+5, 'font-size': 13.5, 'text-anchor': 'end'}, String(v));
    
    
  });
  const zt = add(g, 'line', {x1: 462.3, x2: 462.3, y1: 942.7, y2: 948, stroke: '#3a2a20', 'stroke-width': 1.4});
  
  
  confXTicks.forEach(v => {
    const t = add(g, 'line', {x1: xS(v), x2: xS(v), y1: 942.7, y2: 948, stroke: '#3a2a20', 'stroke-width': 1.4});
    
    
    const l = add(g, 'text', {x: xS(v), y: 962, 'font-size': 13.5, 'text-anchor': 'middle'}, String(v));
    
    
  });
})();
</script>
</svg>
</body>
</html>
